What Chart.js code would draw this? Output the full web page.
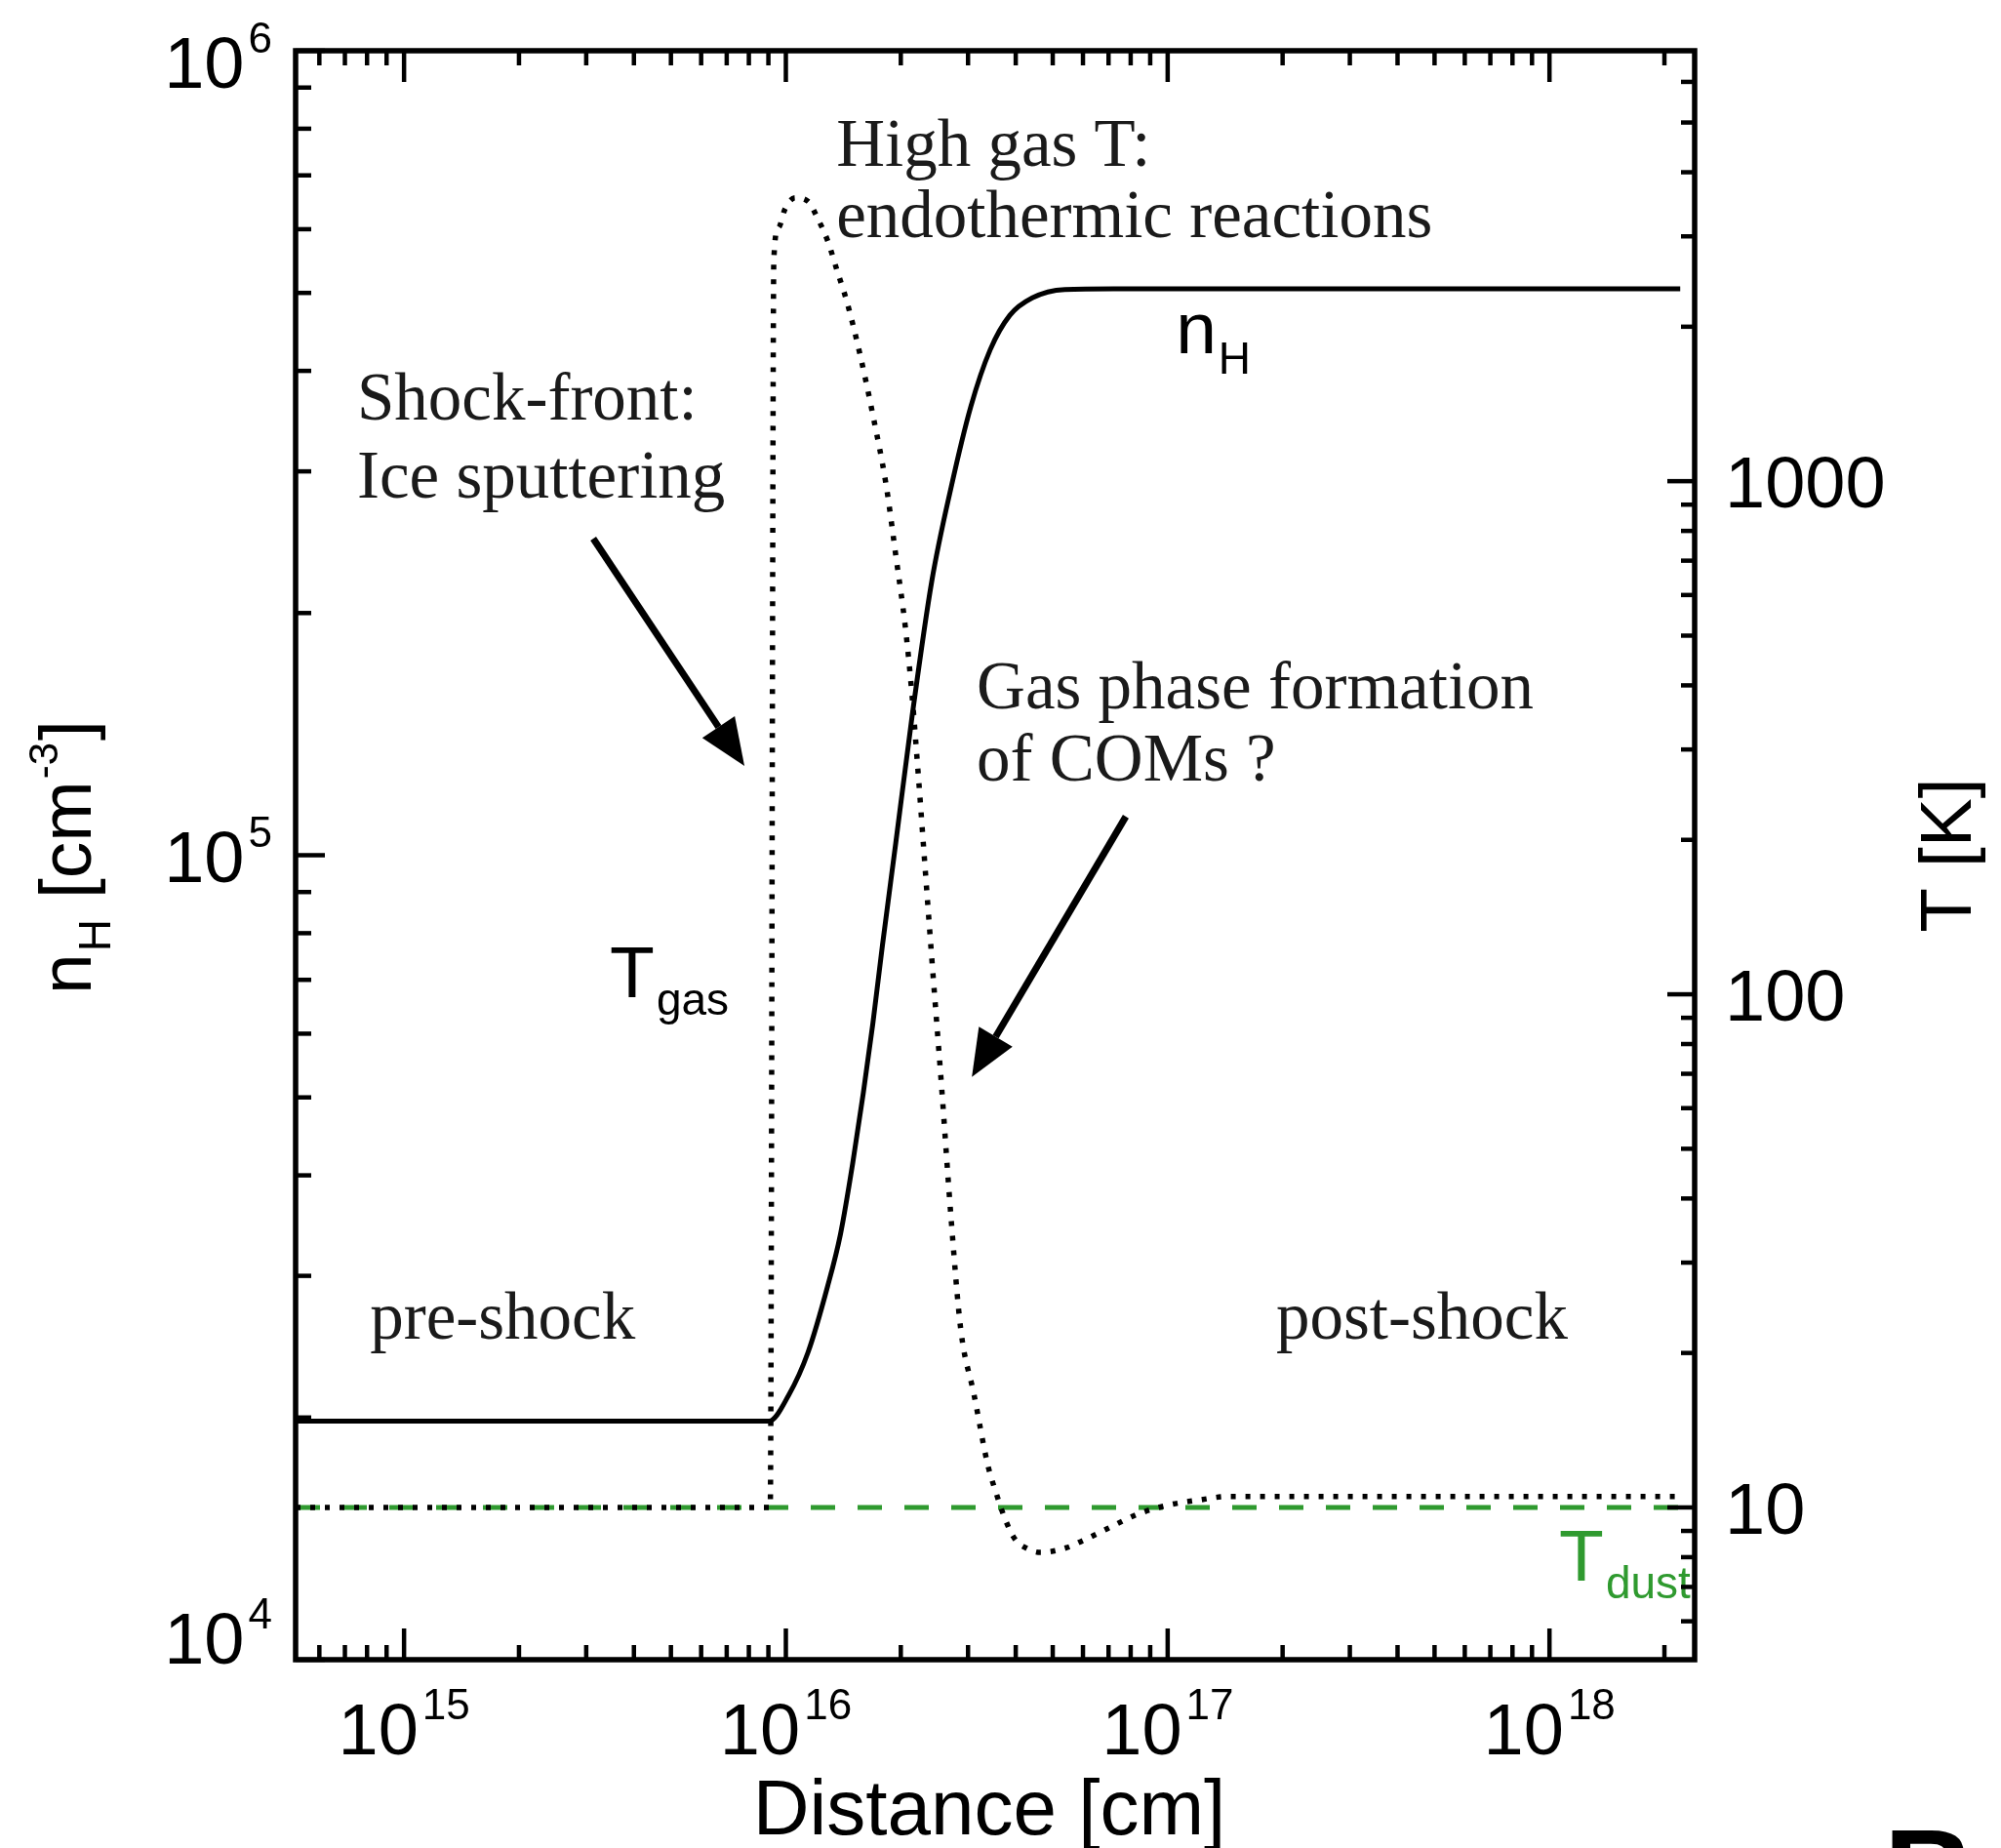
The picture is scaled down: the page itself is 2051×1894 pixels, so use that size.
<!DOCTYPE html>
<html>
<head>
<meta charset="utf-8">
<script src="https://cdn.jsdelivr.net/npm/chart.js@4.4.1/dist/chart.umd.min.js"></script>
<style>
    html, body { margin: 0; padding: 0; background: #fff; overflow: hidden; }
    canvas { display: block; }
</style>
</head>
<body>
<canvas id="c" width="2051" height="1894"></canvas>
<script>
/* ==========================================================================
   Perfil de choque: n_H (eje izq.) y T_gas / T_dust (eje der.) vs distancia
   ========================================================================== */

// densidad n_H [cm^-3]
var distN = [5.2e14, 9.04e15, 1.016e16, 1.143e16, 1.286e16, 1.39e16, 1.50e16, 1.595e16,
             1.69e16, 1.79e16, 1.94e16, 2.14e16, 2.41e16, 2.71e16, 3.05e16, 3.43e16,
             3.86e16, 4.42e16, 5.38e16, 7.23e16, 2.2e18];
var nH    = [1.98e4, 1.98e4, 2.13e4, 2.41e4, 2.91e4, 3.38e4, 4.17e4, 5.06e4,
             6.18e4, 7.72e4, 1.035e5, 1.486e5, 2.189e5, 2.868e5, 3.61e5, 4.25e5,
             4.69e5, 4.93e5, 5.05e5, 5.06e5, 5.06e5];

// temperatura del gas [K]
var distGas = [5.2e14, 9.1e15, 9.3e15, 9.57e15, 9.96e15, 1.057e16, 1.143e16, 1.213e16,
               1.286e16, 1.364e16, 1.446e16, 1.564e16, 1.691e16, 1.831e16, 1.941e16,
               2.059e16, 2.14e16, 2.23e16, 2.30e16, 2.41e16, 2.56e16, 2.71e16, 2.87e16,
               3.11e16, 3.38e16, 3.55e16, 3.75e16, 3.97e16, 4.24e16, 4.64e16, 5.44e16,
               5.96e16, 6.97e16, 8.34e16, 1.0e17, 1.22e17, 1.43e17, 1.79e17, 2.2e18];
var tGas    = [10, 10, 2700, 3120, 3400, 3565, 3510, 3245,
               2944, 2564, 2233, 1766, 1343, 982, 716,
               514, 383, 259, 189, 118, 65.5, 36.4, 22.3,
               16.6, 12.1, 10.7, 9.5, 8.7, 8.35, 8.17, 8.35,
               8.6, 9.1, 9.7, 10.1, 10.35, 10.5, 10.5, 10.5];

// temperatura del polvo [K]
var distDust = [5.2e14, 2.4e18];
var tDust    = [10, 10];

// marcas con etiqueta
var xTickExp = [15, 16, 17, 18];
var nTickExp = [4, 5, 6];
var tTickLabels = [10, 100, 1000];

// anotaciones (en coordenadas de datos: distancia, n_H)
var notes = [
    { t: 'High gas T:',            x: 1.355e16, n: 7.19e5 },
    { t: 'endothermic reactions',  x: 1.355e16, n: 5.86e5 },
    { t: 'Shock-front:',           x: 7.53e14,  n: 3.48e5 },
    { t: 'Ice sputtering',         x: 7.53e14,  n: 2.78e5 },
    { t: 'Gas phase formation',    x: 3.16e16,  n: 1.522e5 },
    { t: 'of COMs ?',              x: 3.16e16,  n: 1.238e5 },
    { t: 'pre-shock',              x: 8.14e14,  n: 2.506e4 },
    { t: 'post-shock',             x: 1.923e17, n: 2.506e4 }
];
var arrows = [
    { x0: 3.13e15, n0: 2.475e5, x1: 7.79e15, n1: 1.291e5 },
    { x0: 7.77e16, n0: 1.117e5, x1: 3.07e16, n1: 5.30e4 }
];

var SANS = '"Liberation Sans", Arial, Helvetica, sans-serif';
var SERIF = '"Liberation Serif", "Times New Roman", serif';
var GREEN = '#2f9a2f';

function pts(xs, ys) {
    return xs.map(function (v, i) { return { x: v, y: ys[i] }; });
}

// texto con sub/superíndices: parts = [{t, size, dy, gap}]
function rich(ctx, parts, x, y, align) {
    var w = 0;
    parts.forEach(function (p) {
        ctx.font = p.size + 'px ' + SANS;
        p.w = ctx.measureText(p.t).width + (p.gap || 0);
        w += p.w;
    });
    var cx = align === 'center' ? x - w / 2 : (align === 'right' ? x - w : x);
    ctx.textAlign = 'left';
    ctx.textBaseline = 'alphabetic';
    parts.forEach(function (p) {
        ctx.font = p.size + 'px ' + SANS;
        ctx.fillText(p.t, cx + (p.gap || 0), y + (p.dy || 0));
        cx += p.w;
    });
}

function pow10(e) {
    return [{ t: '10', size: 74 }, { t: String(e), size: 44, dy: -36, gap: 4 }];
}

function logTicks(min, max) {
    var out = [];
    for (var e = Math.floor(Math.log10(min)); e <= Math.ceil(Math.log10(max)); e++) {
        for (var m = 1; m < 10; m++) {
            var v = m * Math.pow(10, e);
            if (v >= min * 0.999 && v <= max * 1.001) out.push({ v: v, major: m === 1 });
        }
    }
    return out;
}

function seg(ctx, x0, y0, x1, y1) {
    ctx.beginPath(); ctx.moveTo(x0, y0); ctx.lineTo(x1, y1); ctx.stroke();
}

function arrow(ctx, x0, y0, x1, y1) {
    var ang = Math.atan2(y1 - y0, x1 - x0), L = 48, H = 20;
    var bx = x1 - L * Math.cos(ang), by = y1 - L * Math.sin(ang);
    ctx.lineWidth = 7;
    seg(ctx, x0, y0, bx, by);
    ctx.beginPath();
    ctx.moveTo(x1, y1);
    ctx.lineTo(bx + H * Math.sin(ang), by - H * Math.cos(ang));
    ctx.lineTo(bx - H * Math.sin(ang), by + H * Math.cos(ang));
    ctx.closePath();
    ctx.fill();
}

var marco = {
    id: 'marco',
    afterDraw: function (chart) {
        var ctx = chart.ctx, a = chart.chartArea;
        var sx = chart.scales.x, sy = chart.scales.y, st = chart.scales.yT;
        ctx.save();
        ctx.fillStyle = '#000';
        ctx.strokeStyle = '#000';

        // anotaciones
        ctx.fillStyle = '#1a1a1a';
        ctx.font = '69px ' + SERIF;
        ctx.textAlign = 'left';
        ctx.textBaseline = 'alphabetic';
        notes.forEach(function (nt) {
            ctx.fillText(nt.t, sx.getPixelForValue(nt.x), sy.getPixelForValue(nt.n));
        });
        ctx.fillStyle = '#000';
        arrows.forEach(function (ar) {
            arrow(ctx, sx.getPixelForValue(ar.x0), sy.getPixelForValue(ar.n0),
                  sx.getPixelForValue(ar.x1), sy.getPixelForValue(ar.n1));
        });

        // etiquetas de curvas
        rich(ctx, [{ t: 'n', size: 75 }, { t: 'H', size: 46, dy: 21, gap: 2 }],
             sx.getPixelForValue(1.05e17), sy.getPixelForValue(4.21e5), 'left');
        rich(ctx, [{ t: 'T', size: 75 }, { t: 'gas', size: 46, dy: 18, gap: 2 }],
             sx.getPixelForValue(3.46e15), sy.getPixelForValue(6.66e4), 'left');
        ctx.fillStyle = GREEN;
        rich(ctx, [{ t: 'T', size: 75 }, { t: 'dust', size: 46, dy: 18, gap: 2 }],
             sx.getPixelForValue(1.06e18), sy.getPixelForValue(1.254e4), 'left');
        ctx.fillStyle = '#000';

        // marco
        ctx.lineWidth = 5.5;
        ctx.strokeRect(a.left, a.top, a.right - a.left, a.bottom - a.top);

        // marcas hacia adentro
        ctx.lineWidth = 4.5;
        logTicks(sx.min, sx.max).forEach(function (t) {
            var px = sx.getPixelForValue(t.v), L = t.major ? 32 : 15;
            seg(ctx, px, a.bottom, px, a.bottom - L);
            seg(ctx, px, a.top, px, a.top + L);
        });
        logTicks(sy.min, sy.max).forEach(function (t) {
            var py = sy.getPixelForValue(t.v), L = t.major ? 30 : 16;
            seg(ctx, a.left, py, a.left + L, py);
        });
        logTicks(st.min, st.max).forEach(function (t) {
            var py = st.getPixelForValue(t.v), L = t.major ? 28 : 14;
            seg(ctx, a.right, py, a.right - L, py);
        });

        // etiquetas de ejes
        xTickExp.forEach(function (e) {
            rich(ctx, pow10(e), sx.getPixelForValue(Math.pow(10, e)), a.bottom + 97, 'center');
        });
        nTickExp.forEach(function (e) {
            var py = sy.getPixelForValue(Math.pow(10, e)) + 27;
            if (e === 6) py = a.top + 38;
            if (e === 4) py = a.bottom + 4;
            rich(ctx, pow10(e), a.left - 24, py, 'right');
        });
        ctx.font = '74px ' + SANS;
        ctx.textAlign = 'left';
        tTickLabels.forEach(function (v) {
            ctx.fillText(String(v), a.right + 31, st.getPixelForValue(v) + 27);
        });

        // títulos
        ctx.font = '80px ' + SANS;
        ctx.textAlign = 'center';
        ctx.fillText('Distance [cm]', (a.left + a.right) / 2 - 6, a.bottom + 179);

        ctx.save();
        ctx.translate(93, (a.top + a.bottom) / 2 + 2);
        ctx.rotate(-Math.PI / 2);
        rich(ctx, [{ t: 'n', size: 75 }, { t: 'H', size: 46, dy: 20, gap: 2 },
                   { t: ' [cm', size: 75 }, { t: '-3', size: 42, dy: -34, gap: 2 },
                   { t: ']', size: 75, gap: 2 }], 0, 0, 'center');
        ctx.restore();

        ctx.save();
        ctx.translate(2020, (a.top + a.bottom) / 2);
        ctx.rotate(-Math.PI / 2);
        rich(ctx, [{ t: 'T [K]', size: 75 }], 0, 0, 'center');
        ctx.restore();

        // letra del panel
        ctx.font = 'bold 128px ' + SANS;
        ctx.textAlign = 'left';
        ctx.fillText('B', 1931, 1964);
        ctx.restore();
    }
};

new Chart(document.getElementById('c'), {
    type: 'line',
    data: {
        datasets: [
            {
                label: 'n_H',
                data: pts(distN, nH),
                yAxisID: 'y',
                borderColor: '#000',
                borderWidth: 5,
                pointRadius: 0,
                cubicInterpolationMode: 'monotone'
            },
            {
                label: 'T_gas',
                data: pts(distGas, tGas),
                yAxisID: 'yT',
                borderColor: '#000',
                borderWidth: 5.5,
                borderDash: [5, 10],
                pointRadius: 0,
                cubicInterpolationMode: 'monotone'
            },
            {
                label: 'T_dust',
                data: pts(distDust, tDust),
                yAxisID: 'yT',
                borderColor: GREEN,
                borderWidth: 5,
                borderDash: [25, 23],
                pointRadius: 0
            }
        ]
    },
    options: {
        responsive: false,
        animation: false,
        devicePixelRatio: 1,
        layout: { padding: { left: 303, right: 314, top: 52, bottom: 193 } },
        plugins: { legend: { display: false }, tooltip: { enabled: false } },
        scales: {
            x:  { type: 'logarithmic', min: 5.2e14, max: 2.4e18, display: false },
            y:  { type: 'logarithmic', min: 1e4, max: 1e6, display: false },
            yT: { type: 'logarithmic', min: 5.05, max: 6900, display: false, position: 'right' }
        }
    },
    plugins: [marco]
});
</script>
</body>
</html>
